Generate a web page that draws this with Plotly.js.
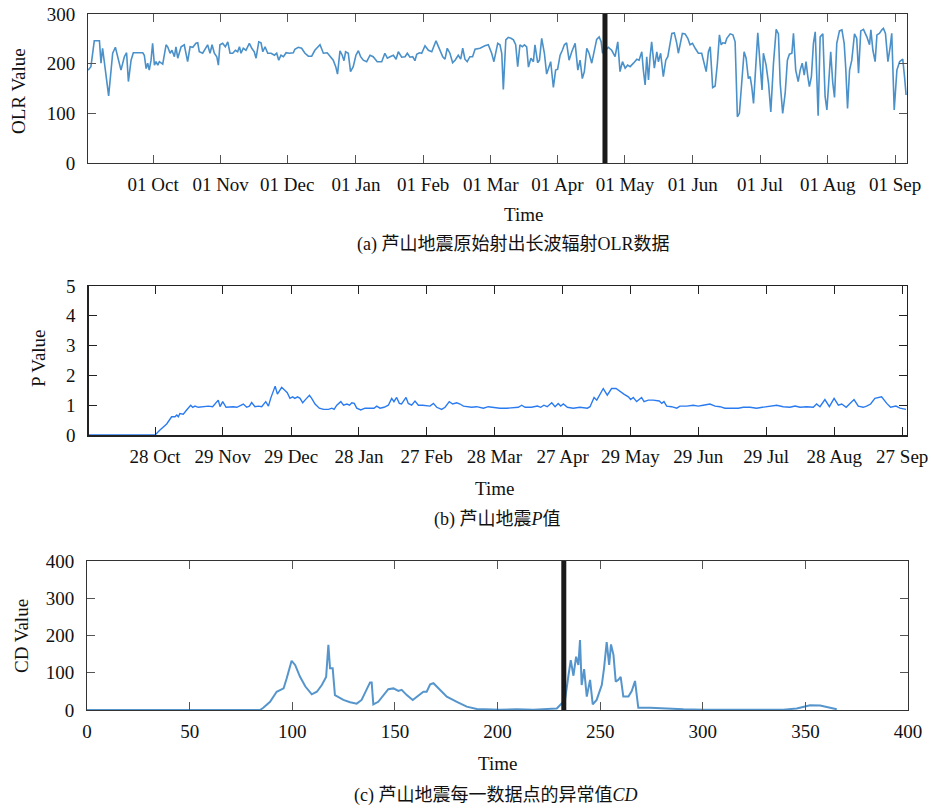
<!DOCTYPE html>
<html>
<head>
<meta charset="utf-8">
<script src="https://cdn.plot.ly/plotly-3.0.1.min.js"></script>
<style>html,body{margin:0;padding:0;background:#fff;}#chart{width:931px;height:808px;}</style>
</head>
<body>
<div id="chart"></div>
<script>
// ---------- (a) OLR data: day index vs OLR value ----------
const olrDay = [
  0,1.3,2.8,5.1,5.8,6.5,9.2,11,12.2,14,
  14.7,16.2,17.2,18,19.2,20.2,24.4,25.1,25.9,26.6,
  27.3,28.1,28.8,29.6,30.3,31.1,31.8,33.3,34.8,35.5,
  36.6,37.4,38.5,39.2,40,41.5,42.9,44.4,45.5,46.7,
  48.1,48.9,49.6,51.1,52.6,53.3,54.4,55.3,56.3,57.4,
  58.1,58.8,60,61.2,62.3,63.3,64.5,65.7,66.7,67.5,
  68.2,69.2,70.4,71.9,73,74.1,74.9,76.1,77.1,77.9,
  78.9,80.1,81.6,83.1,84.1,85,86,87.1,88.3,89.7,
  91.5,92.2,93.7,95.2,96.7,98.2,99.7,101.1,103.4,104.9,
  106.6,108.1,109.3,110.4,111.2,112.3,113.3,114.1,114.8,116,
  117,118.2,119.4,120.5,121.5,122.7,124.2,125.7,127.1,128.9,
  130.9,132.3,133.4,134.6,136.1,137.3,138.3,139.8,141.3,142.3,
  143.5,144.7,145.7,146.5,147.7,148.7,150.2,151.7,153.2,155.1,
  156.6,158.1,159.1,160.1,161.3,162.5,163.6,165,166.1,167,
  168,169,170.2,171.4,172.5,174.7,176.9,178.4,179.9,180.9,
  182.6,183.6,184.4,185.1,186.2,187.3,188.5,189.6,190.6,191.5,
  192.5,193.6,194.5,195.5,196.3,197.4,198.5,199.2,200.4,201.2,
  202.2,203.4,204.4,205.2,206.2,207.4,208.4,209.3,210.4,211.4,
  212.3,213.3,214.4,215.6,217.1,218.3,219.3,220.3,221.2,222.3,
  223.3,224.5,225.7,226.7,227.8,228.7,229.3,231.9,233.4,234.9,
  236.1,237.1,238.2,239.4,240.5,241.6,243.1,244.6,245.6,246.8,
  247.5,248.3,249,249.8,250.5,251.2,252.4,253.5,254.2,255.2,
  256.4,257.5,258.4,259.4,260.2,261.3,262.4,263.1,263.9,264.9,
  266.1,267.3,268.3,269.4,270.6,272,
  273.5,274.6,275.5,276.5,277.3,278.4,279.5,280.5,281.4,282.2,
  282.9,284,284.7,286.2,287.4,288.4,289.4,290.3,291.4,292.4,
  293.3,294.3,295.1,295.8,296.6,297.8,298.5,299.5,300.4,301,
  302.2,303.3,304.3,305.5,306.7,307.7,308.5,309.6,310.7,311.7,
  312.6,313.7,314.4,315.4,316.5,317.4,318.3,319.2,320,320.8,
  321.5,322.4,323.3,324.1,324.8,325.4,326.3,327.5,328.5,329.3,
  330,331,331.9,332.7,333.7,334.9,336,337,337.7,338.5,
  339.4,340.4,341.6,342.6,343.4,344.4,345.6,347.1,348.3,348.9,
  349.8,350.8,351.6,352.7,353.8,354.5,355.4,356.5,357.5,358.2,
  359.3,360.5,361.7,363.1,363.9,364.6
];
const olrValue = [
  187,194,246,246,201,231,135,221,233,201,
  187,214,222,164,207,222,222,217,190,201,
  187,207,241,197,204,197,204,199,238,234,
  221,227,214,234,211,234,238,204,234,233,
  241,242,224,221,234,238,221,238,221,214,
  197,238,241,234,244,221,221,227,224,234,
  221,231,227,241,231,224,211,244,242,224,
  234,221,221,217,221,207,217,214,222,221,
  222,229,233,231,221,215,215,227,238,221,
  222,214,207,194,179,226,217,206,224,221,
  184,194,217,226,214,207,204,217,214,204,
  204,221,211,214,217,209,224,213,214,221,
  213,214,206,219,222,221,236,227,224,246,
  231,214,209,231,221,202,207,217,209,231,
  209,204,214,214,229,231,236,238,221,204,
  241,238,221,148,248,253,251,248,238,194,
  238,234,238,234,193,211,204,238,202,207,
  251,221,179,191,204,152,187,189,217,227,
  238,242,207,224,241,187,207,170,184,231,
  221,201,227,249,254,244,221,233,227,214,
  244,184,204,191,197,194,201,209,207,224,
  187,157,214,167,214,244,191,224,204,221,
  174,207,214,238,261,262,241,221,241,261,
  260,251,238,241,231,221,
  221,201,184,224,234,152,155,201,258,238,
  242,241,251,260,258,244,93,100,167,224,
  211,170,174,154,120,221,262,201,147,221,
  197,160,103,201,269,260,160,100,140,207,
  219,221,261,187,164,187,201,177,204,174,
  154,174,241,264,174,95,254,260,134,107,
  154,224,162,132,241,266,268,241,191,110,
  187,207,260,251,181,266,269,254,238,268,
  227,204,258,261,268,271,261,204,234,261,
  107,187,204,209,174,137
];
const olrTickPos = [29, 59.1, 88.8, 119.4, 149.4, 179.5, 209.2, 239.3, 269.5, 299.5, 329.7, 359.7];
const olrTickText = ['01 Oct','01 Nov','01 Dec','01 Jan','01 Feb','01 Mar','01 Apr','01 May','01 Jun','01 Jul','01 Aug','01 Sep'];
const olrQuakeDay = 230.4;

// ---------- (b) P value ----------
const pDay = [
  0,29.6,31.8,34.8,37,38.5,39.3,40,40.7,42.2,
  43.7,45.5,46.4,47.4,48.9,51.2,53.4,55.3,56.4,57.8,
  58.6,59.8,61.3,63,64.5,66.1,67.5,69,70.5,71.7,
  72.7,74.2,75.7,77.2,79,80.2,81.2,83.2,84.2,86.1,
  87.6,88.6,89.8,91,92,93.2,94.3,95.5,96.5,97.3,
  98.5,99.5,101,102.9,104.8,107,108.5,109.5,110.7,112.5,
  113.7,115.2,116.4,117.4,118.5,119.6,121.4,123.3,125.5,127.3,
  128.5,130,131.8,133.7,135.2,136.2,137.4,138.6,139.6,141.6,
  142.6,144.1,145.6,147.1,149,150.8,152.3,153.8,155.3,157.5,
  159,160.9,162.4,164.2,165.7,167.2,168.6,170.9,173.1,176.1,
  178.3,180.5,183.5,186.5,189.5,191.7,193.2,194.7,197.6,200.2,
  201.7,203.1,204.6,206.6,208.1,209.5,210.6,211.8,213.6,216.2,
  219.2,222.5,223.7,225.5,226.7,228.1,229.6,231.4,233.3,235.3,
  237.1,238.8,240.8,241.8,243,244.5,246.7,247.8,249.7,251.9,
  254.6,255.7,256.7,257.9,260.1,262.4,263.8,266.8,269.8,272,
  274.2,277.2,279.5,281.7,283.9,286.9,289.9,292.1,295.1,298,
  301,304,307,309.9,312.9,315.2,317.4,320.4,323.3,324.8,
  326.3,328.5,330.5,332.6,334.5,336,338,339.7,341.5,343.4,
  345.6,347.1,348.9,350.8,353.8,356.1,357.8,360.2,362,364.7
];
const pValue = [
  0,0,0.17,0.37,0.61,0.61,0.67,0.61,0.72,0.70,
  0.84,1.0,0.93,0.97,0.93,0.95,0.97,0.95,1.04,1.17,
  0.95,1.12,0.93,0.95,0.95,0.93,0.97,1.04,0.93,0.97,
  1.09,0.95,0.97,0.95,1.12,0.97,1.23,1.64,1.37,1.60,
  1.49,1.42,1.23,1.28,1.23,1.28,1.23,1.08,1.17,1.23,
  1.33,1.23,1.04,0.90,0.86,0.86,0.90,0.86,1.0,1.12,
  1.0,1.04,1.0,1.08,1.06,0.90,0.84,0.90,0.90,0.90,
  0.97,0.90,0.93,1.0,1.23,1.12,1.26,1.06,1.04,1.26,
  1.06,1.0,1.14,1.0,1.0,0.97,0.97,1.06,0.93,0.86,
  0.93,1.12,1.04,1.08,1.04,0.97,0.95,0.93,0.95,0.90,
  0.95,0.93,0.90,0.90,0.93,0.93,1.0,0.93,0.93,0.97,
  0.93,1.0,0.95,1.08,0.95,1.06,0.97,1.04,0.93,0.90,
  0.93,0.90,0.95,1.26,1.17,1.37,1.56,1.34,1.56,1.56,
  1.45,1.37,1.28,1.19,1.26,1.12,1.26,1.12,1.17,1.17,
  1.14,1.06,1.12,0.97,0.95,0.90,0.97,0.97,1.0,0.97,
  1.0,1.04,0.97,0.95,0.90,0.90,0.90,0.93,0.93,0.90,
  0.93,0.95,1.0,0.95,0.93,0.97,0.93,0.95,0.93,1.04,
  0.95,1.19,0.95,1.23,1.0,1.04,0.93,1.06,1.19,0.97,
  0.93,0.97,1.04,1.23,1.28,1.06,0.93,0.97,0.90,0.86
];
const pTickPos = [29.6, 59.8, 90.3, 120.6, 150.8, 181, 211.5, 241.7, 272, 302.3, 332.7, 363];
const pTickText = ['28 Oct','29 Nov','29 Dec','28 Jan','27 Feb','28 Mar','27 Apr','29 May','29 Jun','29 Jul','28 Aug','27 Sep'];

// ---------- (c) CD anomaly ----------
const cdIndex = [
  0,84.3,85.9,89.2,92.4,95.8,97.3,99.7,101.4,103.8,
  106.4,109.5,112,114.4,116.5,117.6,118.4,119.7,120.8,124.9,
  128.2,131.4,133.8,136.3,137.9,138.7,139.5,141.9,144.4,146.8,
  149.3,151.7,153.3,155.8,158.7,161.5,163.9,165.5,167.2,168.8,
  171.2,175.3,180.2,185,189.9,201.3,209.4,217.5,228.9,232.9,
  234.6,235.7,237,238.3,239.4,240.2,241,242.2,243.5,245.1,
  246.4,248.3,250.8,251.9,253.2,254.4,255.3,256.5,257.6,258.9,
  260,261.3,263.8,265.4,267,268.6,274.3,280.8,290.6,300.3,
  339.3,345.8,349,352.3,357.2,361.2,365.3
];
const cdValue = [
  0,0,6,22,49,58,85,132,121,89,
  63,42,49,67,89,175,112,112,40,27,
  21,17,27,58,74,74,15,22,40,56,
  58,51,54,40,27,39,49,49,69,72,
  58,36,22,9,3,1,2,1,4,27,
  94,134,92,143,121,188,67,110,36,81,
  15,27,67,112,182,121,176,148,76,81,
  89,36,36,51,78,6,6,4,2,1,
  1,4,9,13,12,7,2
];
const cdTickVals = [0,50,100,150,200,250,300,350,400];
const cdQuakeIndex = 232.3;

// ---------- layout helpers ----------
const W = 931, H = 808;
const fx = px => px / W;
const fy = py => 1 - py / H;
const serif = '"Liberation Serif","Times New Roman",serif';
const capFont = '"Liberation Serif","Noto Sans CJK SC",serif';
const tickFont = {family: serif, size: 19, color: '#111'};

function axisBase(extra) {
  return Object.assign({
    showline: true, mirror: 'ticks', linecolor: '#333', linewidth: 1,
    ticks: 'inside', ticklen: 8, tickwidth: 1, tickcolor: '#555',
    showgrid: false, zeroline: false, fixedrange: true,
    tickfont: tickFont
  }, extra);
}

const traces = [
  {x: olrDay, y: olrValue, xaxis: 'x', yaxis: 'y', type: 'scatter', mode: 'lines',
   line: {color: '#4a90c9', width: 1.6}, hoverinfo: 'skip'},
  {x: pDay, y: pValue, xaxis: 'x2', yaxis: 'y2', type: 'scatter', mode: 'lines',
   line: {color: '#2b7bf0', width: 1.4}, hoverinfo: 'skip'},
  {x: cdIndex, y: cdValue, xaxis: 'x3', yaxis: 'y3', type: 'scatter', mode: 'lines',
   line: {color: '#4289c6', width: 2}, opacity: 0.9, hoverinfo: 'skip'}
];

function ann(text, px, py, opts) {
  return Object.assign({text: text, x: fx(px), y: fy(py), xref: 'paper', yref: 'paper',
    xanchor: 'center', yanchor: 'middle', showarrow: false,
    font: {family: serif, size: 19, color: '#111'}}, opts || {});
}
const capStyle = {font: {family: capFont, size: 18, color: '#111'}};

const layout = {
  width: W, height: H,
  margin: {l: 0, r: 0, t: 0, b: 0},
  paper_bgcolor: '#fff', plot_bgcolor: '#fff',
  showlegend: false,
  xaxis: axisBase({domain: [fx(88), fx(907)], range: [0, 365], anchor: 'y',
    tickmode: 'array', tickvals: olrTickPos, ticktext: olrTickText, ticklabelstandoff: 4}),
  yaxis: axisBase({domain: [fy(163), fy(14)], range: [0, 300], anchor: 'x',
    tickmode: 'array', tickvals: [0, 100, 200, 300], ticklabelstandoff: 8}),
  xaxis2: axisBase({domain: [fx(88.7), fx(906.7)], range: [0, 365], anchor: 'y2',
    tickmode: 'array', tickvals: pTickPos, ticktext: pTickText, ticklabelstandoff: 4,
    linecolor: '#222', tickcolor: '#222', linewidth: 1.5}),
  yaxis2: axisBase({domain: [fy(435), fy(286)], range: [0, 5], anchor: 'x2',
    tickmode: 'array', tickvals: [0, 1, 2, 3, 4, 5], ticklabelstandoff: 8,
    linecolor: '#222', tickcolor: '#222', linewidth: 1.5}),
  xaxis3: axisBase({domain: [fx(87), fx(908)], range: [0, 400], anchor: 'y3',
    tickmode: 'array', tickvals: cdTickVals, ticklabelstandoff: 4}),
  yaxis3: axisBase({domain: [fy(710), fy(561)], range: [0, 400], anchor: 'x3',
    tickmode: 'array', tickvals: [0, 100, 200, 300, 400], ticklabelstandoff: 8}),
  shapes: [
    {type: 'line', xref: 'x', yref: 'y domain', x0: olrQuakeDay, x1: olrQuakeDay, y0: 0, y1: 1,
     line: {color: '#1a1a1a', width: 5}, layer: 'above'},
    {type: 'line', xref: 'x3', yref: 'y3 domain', x0: cdQuakeIndex, x1: cdQuakeIndex, y0: 0, y1: 1,
     line: {color: '#1a1a1a', width: 5}, layer: 'above'}
  ],
  annotations: [
    ann('OLR Value', 19, 91, {textangle: -90}),
    ann('Time', 523, 214),
    ann('(a) 芦山地震原始射出长波辐射OLR数据', 513, 244, capStyle),
    ann('P Value', 39, 358, {textangle: -90}),
    ann('Time', 494, 488),
    ann('(b) 芦山地震<i>P</i>值', 497, 519, capStyle),
    ann('CD Value', 21, 636, {textangle: -90}),
    ann('Time', 497, 763),
    ann('(c) 芦山地震每一数据点的异常值<i>CD</i>', 496, 795, capStyle)
  ]
};

Plotly.newPlot('chart', traces, layout, {staticPlot: true, displayModeBar: false});
</script>
</body>
</html>
